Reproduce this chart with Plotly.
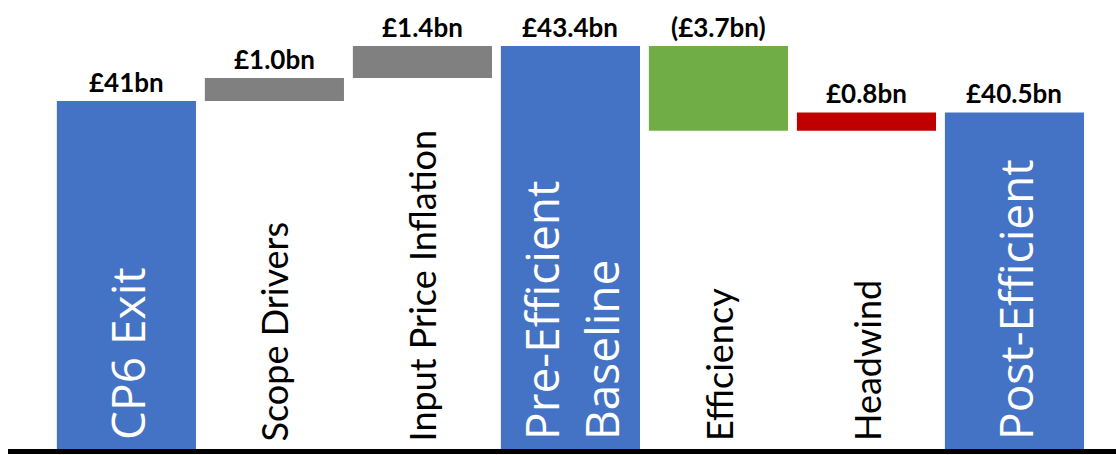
import plotly.graph_objects as go

# Bridge from CP6 exit to the post-efficient CP7 figure (£bn)
categories = ["CP6 Exit", "Scope Drivers", "Input Price Inflation",
              "Pre-Efficient Baseline", "Efficiency", "Headwind", "Post-Efficient"]
axis_labels = ["CP6 Exit", "Scope Drivers", "Input Price Inflation",
               "Pre-Efficient<br>Baseline", "Efficiency", "Headwind", "Post-Efficient"]
amounts = [41.0, 1.0, 1.4, 43.4, -3.7, 0.8, 40.5]
kinds = ["total", "delta", "delta", "total", "delta", "delta", "total"]
value_labels = ["£41bn", "£1.0bn", "£1.4bn", "£43.4bn", "(£3.7bn)", "£0.8bn", "£40.5bn"]
bar_colors = ["#4472C4", "#808080", "#808080", "#4472C4", "#70AD47", "#C00000", "#4472C4"]

# Floating bars: totals stand on zero, steps hang from the running level
bases, heights, tops = [], [], []
level = 0.0
for v, k in zip(amounts, kinds):
    if k == "total":
        bases.append(0.0)
        heights.append(v)
        level = v
    else:
        if v >= 0:
            bases.append(level)
            heights.append(v)
        else:
            bases.append(level + v)
            heights.append(-v)
        level += v
    tops.append(bases[-1] + heights[-1])

fig = go.Figure(go.Bar(
    x=categories, y=heights, base=bases,
    marker=dict(color=bar_colors, line=dict(width=0)),
    width=0.94, hoverinfo="skip",
))

# Value labels above each bar
for c, t, lab in zip(categories, tops, value_labels):
    fig.add_annotation(x=c, y=t, text=lab, showarrow=False,
                       yanchor="bottom", yshift=1,
                       font=dict(family="Lato", size=26, color="black", weight="bold"))

# Vertical category names inside / under the bars
for c, lab, k in zip(categories, axis_labels, kinds):
    if k == "total":
        f = dict(family="Open Sans", size=46, color="white")
        shift = 7
    else:
        f = dict(family="Lato", size=36, color="black")
        shift = 6
    fig.add_annotation(x=c, y=0, yref="paper", text=lab, showarrow=False,
                       textangle=-90, xanchor="center", yanchor="bottom",
                       align="left", yshift=shift, font=f)

fig.update_layout(
    width=1116, height=455,
    margin=dict(l=8, r=0, t=0, b=6),
    paper_bgcolor="white", plot_bgcolor="white",
    showlegend=False,
    xaxis=dict(type="category", range=[-0.80, 6.686], showticklabels=False,
               showgrid=False, zeroline=False, showline=True,
               linecolor="black", linewidth=5, ticks=""),
    yaxis=dict(range=[25.81, 45.41], visible=False),
)

fig.write_html("out.html")
